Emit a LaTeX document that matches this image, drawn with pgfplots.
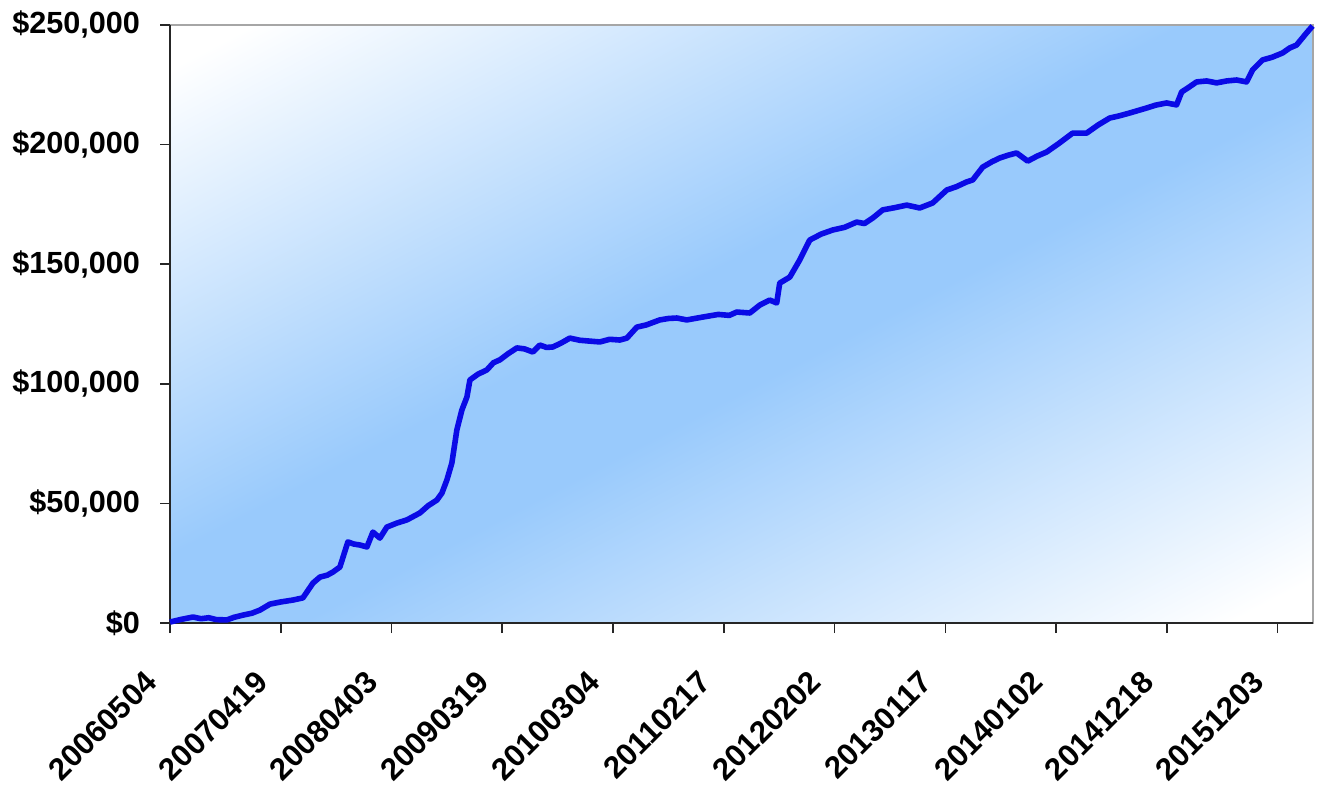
\documentclass[border=0pt]{standalone}
\usepackage{fontspec}
\setmainfont{Liberation Sans}
\usepackage{pgfplots}
\pgfplotsset{compat=1.18}
\definecolor{linecol}{RGB}{10,10,230}
\definecolor{bgblue}{RGB}{153,202,252}
\pgfdeclarehorizontalshading{bandshade}{100bp}{color(0bp)=(white); color(17bp)=(white); color(46bp)=(bgblue); color(54bp)=(bgblue); color(83bp)=(white); color(100bp)=(white)}
\begin{document}
\begin{tikzpicture}
\begin{scope}[transform canvas={xscale=5.715, yscale=2.99}]
\shade[shading=bandshade, shading angle=-45] (0,0) rectangle (100pt,100pt);
\end{scope}
\begin{axis}[
  name=ax,
  at={(0,0)}, anchor=south west,
  scale only axis,
  width=571.5pt, height=299pt,
  xmin=0, xmax=10.32,
  ymin=0, ymax=250,
  clip=false,
  axis background/.style={draw=gray!70, line width=0.8pt},
  axis x line*=bottom, axis y line*=left,
  axis line style={black!85, line width=0.8pt, -},
  xtick={0,1,2,3,4,5,6,7,8,9,10},
  xticklabels={20060504,20070419,20080403,20090319,20100304,20110217,20120202,20130117,20140102,20141218,20151203},
  ytick={0,50,100,150,200,250},
  yticklabels={{\$0},{\$50,000},{\$100,000},{\$150,000},{\$200,000},{\$250,000}},
  tick align=outside,
  major tick length=5pt,
  tick style={black!85, line width=0.8pt},
  yticklabel style={font=\fontsize{15.3}{17}\selectfont\bfseries, xshift=-6.5pt},
  xticklabel style={font=\fontsize{15.5}{17}\selectfont\bfseries, xshift=-7pt, yshift=-19.5pt, rotate=45, anchor=east},
]
\addplot[linecol, line width=2.8pt, line join=round] coordinates {
(0,0.4) (0.10,1.5) (0.208,2.5) (0.28,1.8) (0.35,2.2) (0.42,1.4) (0.514,1.3) (0.58,2.4) (0.659,3.3) (0.74,4.1) (0.812,5.4) (0.903,7.9)
(1.00,8.8) (1.110,9.6) (1.200,10.5) (1.291,16.7) (1.354,19.2) (1.42,20.0) (1.471,21.3) (1.534,23.4)
(1.606,33.9) (1.66,33.0) (1.715,32.6) (1.778,31.8) (1.832,38.0) (1.895,35.5) (1.958,40.1)
(2.05,41.8) (2.139,43.1) (2.256,46.0) (2.33,49.0) (2.410,51.4) (2.455,54.3) (2.500,59.8) (2.545,66.9)
(2.590,80.7) (2.635,89.0) (2.681,94.5) (2.708,101.6) (2.78,104.0) (2.861,105.8) (2.92,108.8) (2.978,110.0)
(3.05,112.5) (3.132,115.0) (3.20,114.6) (3.276,113.3) (3.339,116.2) (3.40,115.2) (3.457,115.4) (3.53,117.0) (3.610,119.1) (3.70,118.2) (3.80,117.8) (3.881,117.5)
(3.97,118.6) (4.061,118.3) (4.125,119.1) (4.215,123.7) (4.30,124.6) (4.422,126.7) (4.50,127.3) (4.576,127.5) (4.666,126.7)
(4.810,127.9) (4.95,129.0) (5.05,128.6) (5.117,130.0) (5.235,129.6) (5.325,132.9) (5.415,135.0) (5.478,133.8)
(5.505,142.1) (5.596,144.6) (5.686,151.8) (5.776,160.1) (5.88,162.6) (5.984,164.3) (6.09,165.4) (6.200,167.6)
(6.27,167.0) (6.345,169.3) (6.435,172.7) (6.54,173.6) (6.652,174.7) (6.769,173.5) (6.886,175.6) (7.013,181.0)
(7.10,182.4) (7.193,184.4) (7.247,185.2) (7.338,190.6) (7.42,192.8) (7.491,194.4) (7.57,195.6) (7.644,196.5) (7.744,193.1)
(7.83,195.2) (7.915,196.9) (8.032,200.7) (8.150,204.8) (8.276,204.8) (8.38,208.2) (8.484,211.1) (8.57,212.0) (8.664,213.2)
(8.818,215.3) (8.90,216.5) (8.998,217.4) (9.088,216.6) (9.134,222.0) (9.20,224.0) (9.269,226.2) (9.36,226.6) (9.450,225.8)
(9.54,226.6) (9.630,227.0) (9.720,226.2) (9.774,231.2) (9.865,235.4) (9.95,236.5) (10.045,238.3) (10.11,240.4) (10.171,241.6)
(10.262,246.7) (10.316,249.6)
};
\end{axis}
\pgfresetboundingbox
\path ([xshift=-85pt,yshift=12.5pt]ax.north west) rectangle ([xshift=8.5pt,yshift=-81pt]ax.south east);
\end{tikzpicture}
\end{document}
